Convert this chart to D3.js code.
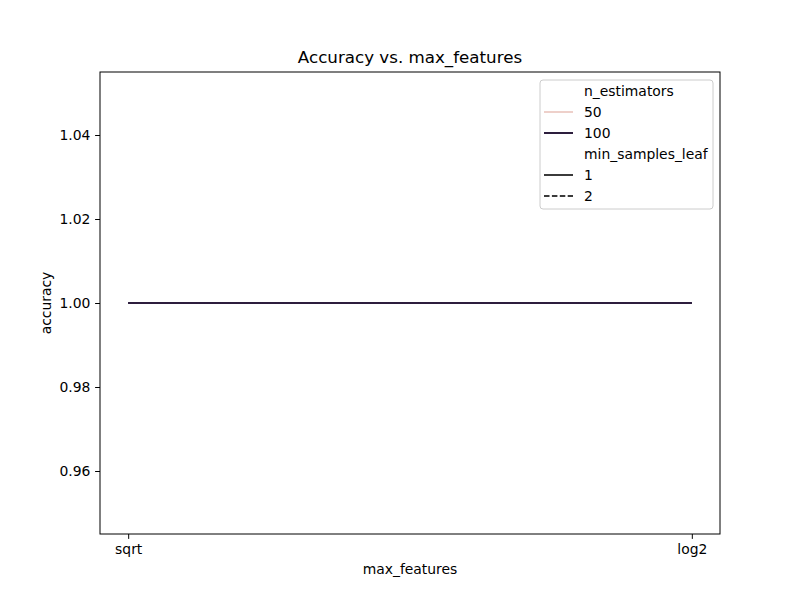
<!DOCTYPE html>
<html>
<head>
<meta charset="utf-8">
<script src="https://cdn.jsdelivr.net/npm/d3@7"></script>
<style>
  body { margin: 0; background: #fff; }
  text { font-family: "DejaVu Sans", sans-serif; fill: #000; }
</style>
</head>
<body>
<svg id="chart" width="800" height="600"></svg>
<script>
// data
const maxFeatures = ["sqrt", "log2"];
const nEstimators = [50, 100];
const minSamplesLeaf = [1, 2];
// accuracy per (n_estimators, min_samples_leaf) over max_features
const series = [
  { n: 50, leaf: 1, values: [1.0, 1.0] },
  { n: 50, leaf: 2, values: [1.0, 1.0] },
  { n: 100, leaf: 1, values: [1.0, 1.0] },
  { n: 100, leaf: 2, values: [1.0, 1.0] }
];
const yTicks = [0.96, 0.98, 1.00, 1.02, 1.04];

const hueColor = d3.scaleOrdinal().domain(nEstimators).range(["#eed0ca", "#2d1e3e"]);
const dashFor = d3.scaleOrdinal().domain(minSamplesLeaf).range(["none", "5.5,2.4"]);

const svg = d3.select("#chart");
const margin = { left: 100, right: 80, top: 72, bottom: 66 };
const width = 800 - margin.left - margin.right;
const height = 600 - margin.top - margin.bottom;

// 5% margin each side, like matplotlib
const x = d3.scalePoint().domain(maxFeatures).range([0, width]).padding(0.05);
const y = d3.scaleLinear().domain([0.945, 1.055]).range([height, 0]);

const g = svg.append("g").attr("transform", `translate(${margin.left},${margin.top})`);

const line = d3.line()
  .x((d, i) => x(maxFeatures[i]))
  .y(d => y(d));

g.selectAll("path.series")
  .data(series)
  .enter().append("path")
  .attr("class", "series")
  .attr("fill", "none")
  .attr("stroke", d => hueColor(d.n))
  .attr("stroke-width", 2)
  .attr("stroke-dasharray", d => dashFor(d.leaf))
  .attr("d", d => line(d.values));

// axes
const xAxis = g.append("g")
  .attr("transform", `translate(0,${height})`)
  .call(d3.axisBottom(x).tickSize(4.9).tickPadding(4.8));
const yAxis = g.append("g")
  .call(d3.axisLeft(y).tickValues(yTicks).tickFormat(d3.format(".2f")).tickSize(4.9).tickPadding(4.8));

[xAxis, yAxis].forEach(a => {
  a.selectAll("path.domain").remove();
  a.selectAll("line").attr("stroke", "#000").attr("stroke-width", 1);
  a.selectAll("text").style("font-size", "13.9px").style("font-family", "DejaVu Sans, sans-serif");
});

// frame
g.append("rect")
  .attr("width", width).attr("height", height)
  .attr("fill", "none").attr("stroke", "#000").attr("stroke-width", 1);

// labels
svg.append("text")
  .attr("x", margin.left + width / 2).attr("y", 63)
  .attr("text-anchor", "middle")
  .style("font-size", "16.7px")
  .text("Accuracy vs. max_features");

svg.append("text")
  .attr("x", margin.left + width / 2).attr("y", 574)
  .attr("text-anchor", "middle")
  .style("font-size", "13.9px")
  .text("max_features");

svg.append("text")
  .attr("transform", `translate(51,${margin.top + height / 2}) rotate(-90)`)
  .attr("text-anchor", "middle")
  .style("font-size", "13.9px")
  .text("accuracy");

// legend
const legendItems = [
  { label: "n_estimators", title: true },
  ...nEstimators.map(n => ({ label: String(n), color: hueColor(n), dash: "none" })),
  { label: "min_samples_leaf", title: true },
  ...minSamplesLeaf.map(l => ({ label: String(l), color: "#3b3b3b", dash: dashFor(l) }))
];

const legend = svg.append("g").attr("transform", "translate(540,80)");
legend.append("rect")
  .attr("width", 173).attr("height", 129)
  .attr("rx", 3)
  .attr("fill", "#fff").attr("fill-opacity", 0.8)
  .attr("stroke", "#ccc").attr("stroke-width", 1);

const rows = legend.selectAll("g.item")
  .data(legendItems)
  .enter().append("g")
  .attr("class", "item")
  .attr("transform", (d, i) => `translate(0,${11 + i * 21})`);

rows.filter(d => !d.title).append("line")
  .attr("x1", 4).attr("x2", 33)
  .attr("stroke", d => d.color)
  .attr("stroke-width", 2)
  .attr("stroke-dasharray", d => d.dash);

rows.append("text")
  .attr("x", 44).attr("dy", "0.35em")
  .style("font-size", "13.9px")
  .text(d => d.label);
</script>
</body>
</html>
